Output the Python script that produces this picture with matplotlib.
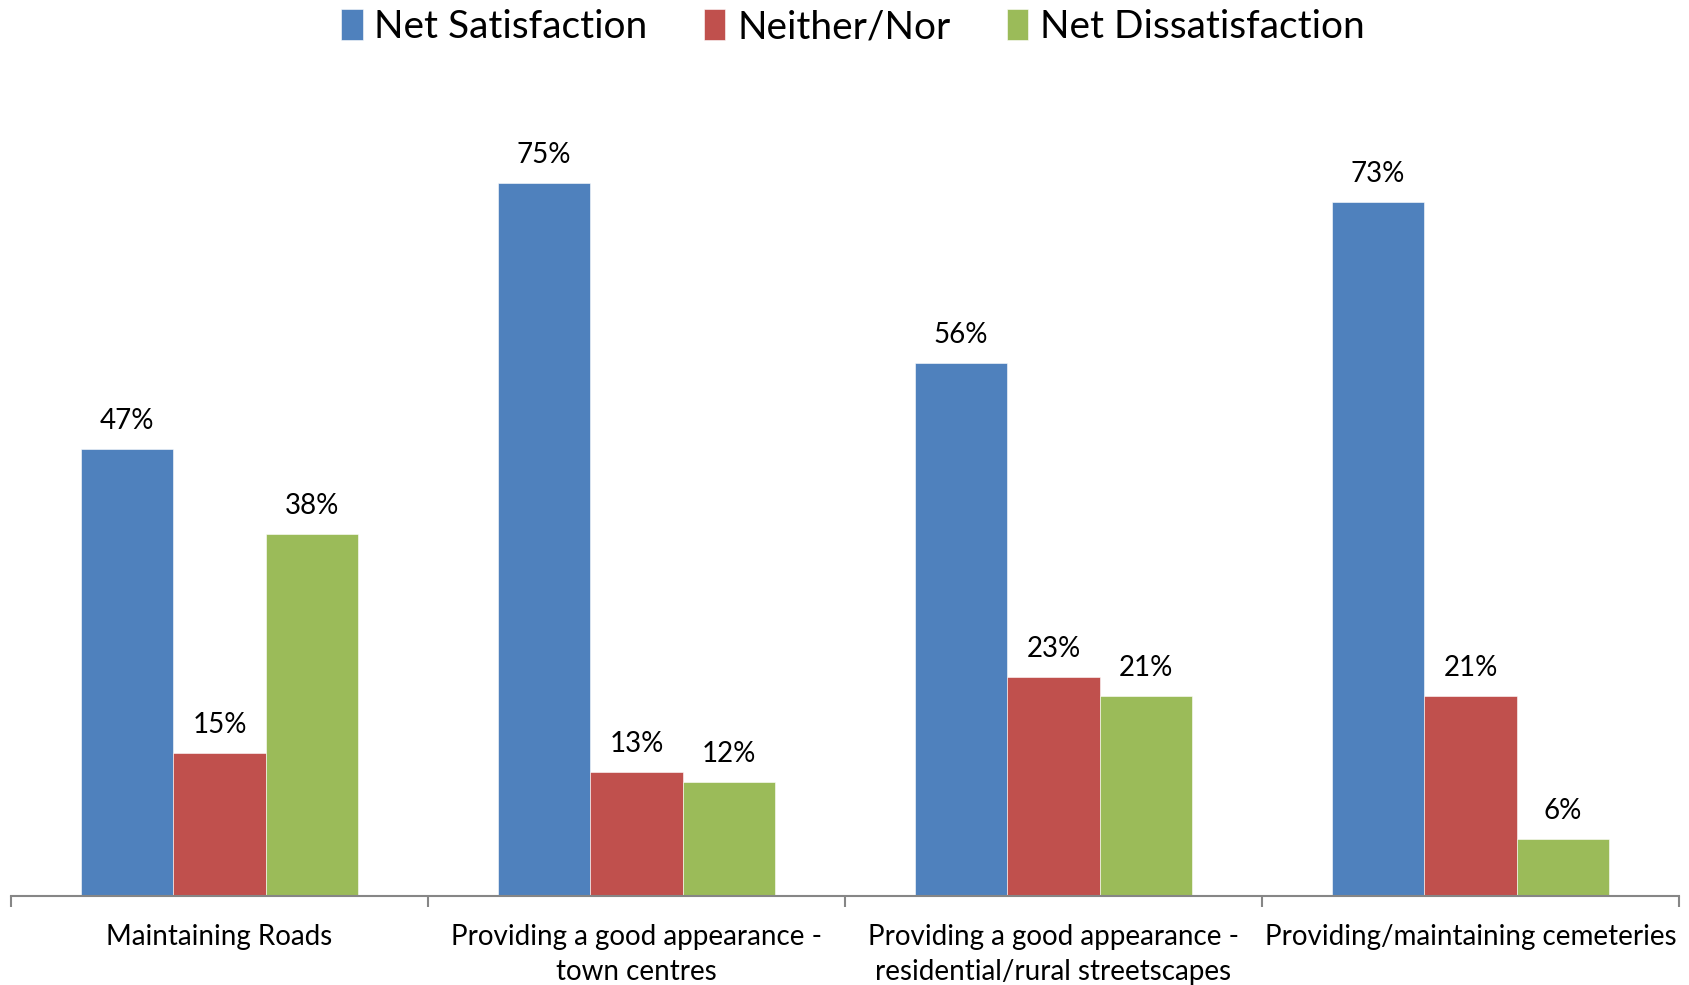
import numpy as np
import matplotlib.pyplot as plt

categories = ['Maintaining Roads',
              'Providing a good appearance -\ntown centres',
              'Providing a good appearance -\nresidential/rural streetscapes',
              'Providing/maintaining cemeteries']
series = ['Net Satisfaction', 'Neither/Nor', 'Net Dissatisfaction']
net_satisfaction = [0.47, 0.75, 0.56, 0.73]
neither_nor = [0.15, 0.13, 0.23, 0.21]
net_dissatisfaction = [0.38, 0.12, 0.21, 0.06]
colors = ['#4F81BD', '#C0504D', '#9BBB59']

plt.rcParams['font.family'] = ['Lato', 'DejaVu Sans']

fig = plt.figure(figsize=(16.89, 9.85), dpi=100)
ax = fig.add_axes([0.0065, 0.0904, 0.9876, 0.7726])

x = np.arange(len(categories))
w = 0.222
values = [net_satisfaction, neither_nor, net_dissatisfaction]
for i, (name, vals) in enumerate(zip(series, values)):
    pos = x + (i - 1) * w
    bars = ax.bar(pos, vals, width=w, color=colors[i], label=name,
                  edgecolor='white', linewidth=0.4)
    for p, v in zip(pos, vals):
        ax.annotate(f'{v:.0%}', (p, v), xytext=(0, 15), textcoords='offset pixels',
                    ha='center', va='bottom', fontsize=20)

ax.set_xlim(-0.5, len(categories) - 0.5)
ax.set_ylim(0, 0.8)
ax.set_yticks([])
for s in ['left', 'right', 'top']:
    ax.spines[s].set_visible(False)
ax.spines['bottom'].set_color('#868686')
ax.spines['bottom'].set_linewidth(1.5)

# category separators as ticks, labels centred under each group
ax.set_xticks(np.arange(len(categories) + 1) - 0.5)
ax.set_xticklabels([])
ax.tick_params(axis='x', length=8, width=1.5, color='#868686')
ax.set_xticks(x, minor=True)
ax.set_xticklabels(categories, minor=True, fontsize=20, linespacing=1.45)
ax.tick_params(axis='x', which='minor', length=0, pad=20)

fig.legend(loc='upper center', bbox_to_anchor=(0.505, 1.026), ncol=3, frameon=False,
           fontsize=28, handlelength=0.55, handleheight=0.85, handletextpad=0.3,
           columnspacing=1.45)

fig.savefig('out.png', dpi=100)
